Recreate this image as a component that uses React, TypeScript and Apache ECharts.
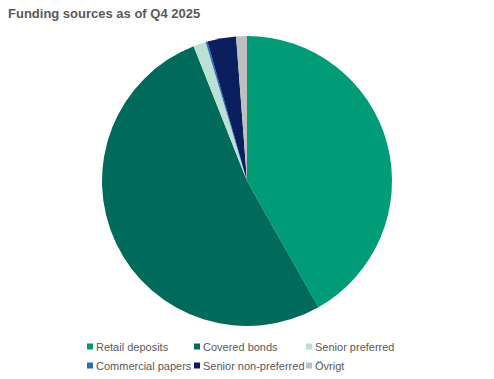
import React, { useEffect, useRef } from "react";
import * as echarts from "echarts";

const categories = [
  "Retail deposits",
  "Covered bonds",
  "Senior preferred",
  "Commercial papers",
  "Senior non-preferred",
  "Övrigt",
];
const values = [41.8, 52.2, 1.4, 0.2, 3.2, 1.2];
const colors = ["#009B77", "#006A5B", "#BCDFD6", "#1F6FC5", "#0B1F5E", "#BFBFBF"];
const legendColumns = [
  ["Retail deposits", "Commercial papers"],
  ["Covered bonds", "Senior non-preferred"],
  ["Senior preferred", "Övrigt"],
];
const legendLefts = [87, 194, 306];

export default function App() {
  const ref = useRef<HTMLDivElement>(null);
  useEffect(() => {
    document.body.style.margin = "0";
    const chart = echarts.init(ref.current!, null, { renderer: "svg" });
    chart.setOption({
      animation: false,
      color: colors,
      title: {
        text: "Funding sources as of Q4 2025",
        left: 3,
        top: 2,
        textStyle: {
          fontFamily: "Liberation Sans, Arial, sans-serif",
          fontSize: 13,
          fontWeight: "bold",
          color: "#595959",
        },
      },
      legend: legendColumns.map((col, i) => ({
        data: col,
        orient: "vertical",
        left: legendLefts[i],
        top: 341,
        height: 38,
        padding: 0,
        itemWidth: 6,
        itemHeight: 6,
        itemGap: 8,
        icon: "rect",
        selectedMode: false,
        textStyle: {
          fontFamily: "Liberation Sans, Arial, sans-serif",
          fontSize: 11,
          color: "#595959",
          padding: [0, 0, 0, -2],
        },
      })),
      series: [
        {
          type: "pie",
          center: [247, 181],
          radius: 145,
          startAngle: 90,
          clockwise: true,
          label: { show: false },
          labelLine: { show: false },
          emphasis: { disabled: true },
          itemStyle: { borderWidth: 0 },
          data: categories.map((name, i) => ({ name, value: values[i] })),
        },
      ],
    });
    return () => chart.dispose();
  }, []);
  return <div ref={ref} style={{ width: 494, height: 379 }} />;
}
